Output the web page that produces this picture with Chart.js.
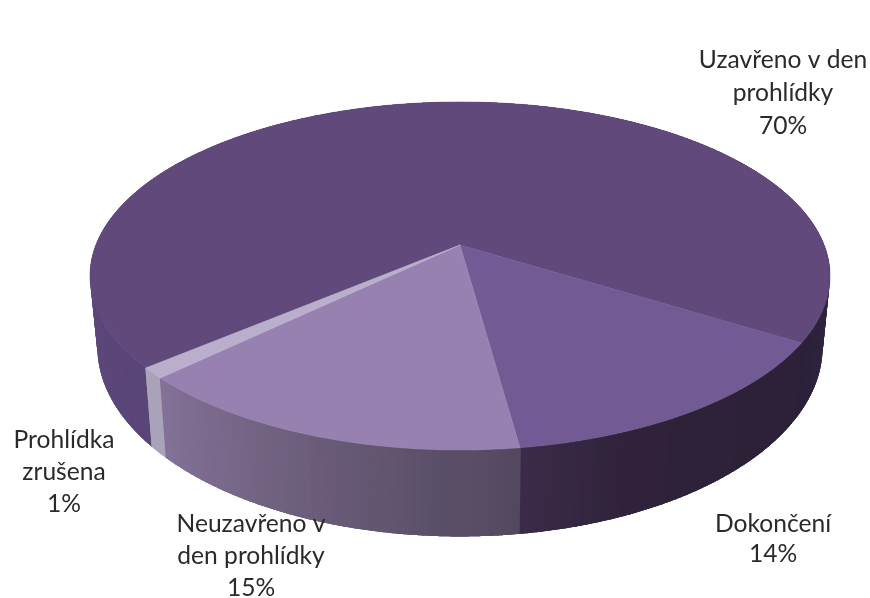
<!DOCTYPE html>
<html>
<head>
<meta charset="utf-8">
<style>
  html, body { margin: 0; padding: 0; background: #fff; }
  canvas { display: block; }
</style>
<script src="https://cdn.jsdelivr.net/npm/chart.js@4"></script>
</head>
<body>
<canvas id="chart" width="870" height="598"></canvas>
<script>
const categories = ['Uzavřeno v den prohlídky', 'Dokončení', 'Neuzavřeno v den prohlídky', 'Prohlídka zrušena'];
const values = [70, 14, 15, 1];
const labelLines = [['Uzavřeno v den', 'prohlídky'], ['Dokončení'], ['Neuzavřeno v', 'den prohlídky'], ['Prohlídka', 'zrušena']];
const topColors = ['#614a7b', '#725b95', '#9781b0', '#b9aecb'];
const wallStops = [
    [[0, '#5a4578'], [0.2, '#604a7d'], [0.85, '#3a2d50'], [1, '#2a2038']],
    [[0, '#2c2137'], [0.7, '#2f2239'], [1, '#3a2c48']],
    [[0, '#52485e'], [1, '#857399']],
    [[0, '#a9a3b9'], [1, '#a9a3b9']]
];
const labelAnchors = [[783, 60, 33], [773, 524, 30], [251, 524, 32], [64, 440, 32]];

// the 3D look: pie is seen in perspective, fitted to the picture
const apexX = 460, apexY = 245;
const scaleX = 364.1, scaleY = 168.5, tilt = 0.178;
const wallX = 0.98, wallY = 1.09, wallTop = 313;

function project(angle) {
    const u = Math.cos(angle), v = Math.sin(angle);
    const s = 1 / (1 - tilt * v);
    return [apexX + scaleX * u * s, apexY + scaleY * v * s];
}

function projectBottom(angle) {
    const p = project(angle);
    return [apexX + wallX * (p[0] - apexX), wallTop + wallY * (p[1] - apexY)];
}

function hexToRgb(h) {
    return [1, 3, 5].map(i => parseInt(h.slice(i, i + 2), 16));
}

function wallColor(stops, t) {
    for (let i = 1; i < stops.length; i++) {
        if (t <= stops[i][0]) {
            const f = (t - stops[i - 1][0]) / (stops[i][0] - stops[i - 1][0]);
            const a = hexToRgb(stops[i - 1][1]), b = hexToRgb(stops[i][1]);
            return `rgb(${a.map((c, k) => Math.round(c + (b[k] - c) * f)).join(',')})`;
        }
    }
    return stops[stops.length - 1][1];
}

const perspectivePie = {
    id: 'perspectivePie',
    beforeDatasetDraw(chart, args) {
        const ctx = chart.ctx;
        const arcs = chart.getDatasetMeta(args.index).data;
        const step = Math.PI / 180;
        // side wall first, back to front, strips overlap so no seams show
        const strips = [];
        arcs.forEach((arc, i) => {
            const span = arc.endAngle - arc.startAngle;
            for (let a = arc.startAngle; a < arc.endAngle; a += step) {
                strips.push({
                    a: Math.max(a - step, arc.startAngle - 0.002),
                    b: Math.min(a + 2 * step, arc.endAngle + 0.002),
                    mid: a + step / 2,
                    color: wallColor(wallStops[i], (a - arc.startAngle) / span)
                });
            }
        });
        strips.sort((p, q) => Math.sin(p.mid) - Math.sin(q.mid));
        strips.forEach(s => {
            ctx.beginPath();
            for (let a = s.a; a < s.b; a += step / 4) {
                const p = project(a);
                ctx.lineTo(p[0], p[1]);
            }
            const e = project(s.b);
            ctx.lineTo(e[0], e[1]);
            for (let a = s.b; a > s.a; a -= step / 4) {
                const p = projectBottom(a);
                ctx.lineTo(p[0], p[1]);
            }
            const f = projectBottom(s.a);
            ctx.lineTo(f[0], f[1]);
            ctx.closePath();
            ctx.fillStyle = s.color;
            ctx.fill();
        });
        // top face
        arcs.forEach((arc, i) => {
            ctx.beginPath();
            ctx.moveTo(apexX, apexY);
            for (let a = arc.startAngle; a < arc.endAngle; a += step / 2) {
                const p = project(a);
                ctx.lineTo(p[0], p[1]);
            }
            const e = project(arc.endAngle);
            ctx.lineTo(e[0], e[1]);
            ctx.closePath();
            ctx.fillStyle = topColors[i];
            ctx.strokeStyle = topColors[i];
            ctx.lineWidth = 0.5;
            ctx.fill();
            ctx.stroke();
        });
        return false;
    },
    afterDraw(chart) {
        const ctx = chart.ctx;
        ctx.save();
        ctx.font = '24.6px Lato';
        ctx.fillStyle = '#2a2a2a';
        ctx.textAlign = 'center';
        ctx.textBaseline = 'middle';
        labelLines.forEach((lines, i) => {
            const [x, y, pitch] = labelAnchors[i];
            lines.concat(values[i] + '%').forEach((line, k) => {
                ctx.fillText(line, x, y + k * pitch);
            });
        });
        ctx.restore();
    }
};

new Chart(document.getElementById('chart'), {
    type: 'pie',
    data: {
        labels: categories,
        datasets: [{ data: values, backgroundColor: topColors, borderWidth: 0 }]
    },
    options: {
        responsive: false,
        animation: false,
        rotation: 229.8,
        plugins: { legend: { display: false }, tooltip: { enabled: false } }
    },
    plugins: [perspectivePie]
});
</script>
</body>
</html>
